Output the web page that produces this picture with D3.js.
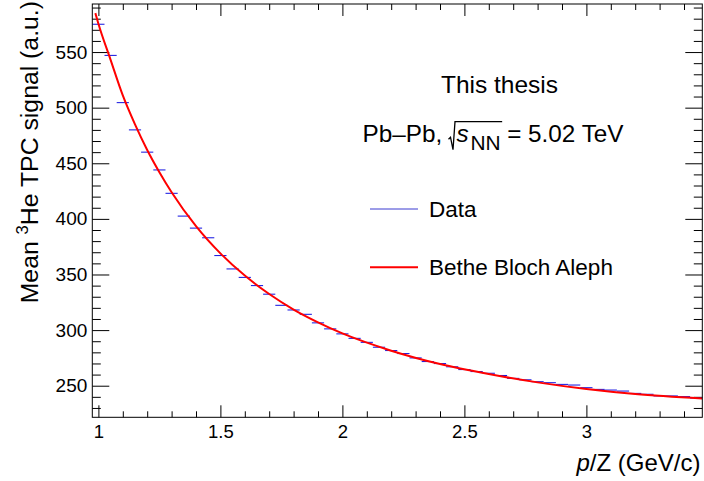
<!DOCTYPE html>
<html>
<head>
<meta charset="utf-8">
<script src="https://cdn.jsdelivr.net/npm/d3@7"></script>
<style>
  body { margin: 0; background: #fff; }
  svg { display: block; }
  text { font-family: "Liberation Sans", Arial, Helvetica, sans-serif; fill: #000; }
</style>
</head>
<body>
<svg id="chart" width="704" height="481"></svg>
<script>
// Mean 3He TPC signal per p/Z bin (bin width 0.05 GeV/c)
const binCenters = [
  1.00, 1.05, 1.10, 1.15, 1.20, 1.25, 1.30, 1.35, 1.40, 1.45,
  1.50, 1.55, 1.60, 1.65, 1.70, 1.75, 1.80, 1.85, 1.90, 1.95,
  2.00, 2.05, 2.10, 2.15, 2.20, 2.25, 2.30, 2.35, 2.40, 2.45,
  2.50, 2.55, 2.60, 2.65, 2.70, 2.75, 2.80, 2.85, 2.90, 2.95,
  3.00, 3.05, 3.10, 3.15, 3.20, 3.25, 3.30, 3.35, 3.40, 3.45
];
const meanSignal = [
  575.0, 547.0, 504.5, 480.0, 460.0, 444.0, 423.0, 402.5, 391.7, 383.0,
  367.0, 355.0, 347.4, 340.0, 332.3, 322.3, 318.1, 314.2, 306.5, 301.1,
  296.6, 292.6, 289.0, 284.6, 281.6, 278.9, 275.0, 271.7, 269.9, 267.0,
  264.5, 262.7, 261.2, 259.2, 256.6, 255.3, 253.6, 252.7, 251.2, 250.6,
  248.2, 246.7, 246.1, 245.2, 243.1, 242.3, 240.8, 240.8, 240.2, 238.9
];
const binWidth = 0.05;

// Bethe-Bloch (ALEPH parametrisation) fit, sampled along p/Z
const fitP      = [0.9875, 1.00, 1.05, 1.10, 1.15, 1.20, 1.25, 1.30, 1.40, 1.50,
                   1.60, 1.70, 1.80, 1.90, 2.00, 2.20, 2.40, 2.60, 2.80, 3.00,
                   3.20, 3.475];
const fitSignal = [585.0, 575.5, 543.0, 511.0, 485.0, 462.0, 442.0, 424.0, 393.5, 369.0,
                   349.0, 332.5, 318.5, 307.0, 297.0, 281.5, 269.5, 260.5, 253.0, 247.0,
                   242.5, 238.5];

// Axis tick labels
const xMajorTicks = [1, 1.5, 2, 2.5, 3];
const yMajorTicks = [250, 300, 350, 400, 450, 500, 550];

const svg = d3.select("#chart");
const frameL = 92.3, frameR = 702.3, frameT = 4, frameB = 417.3;

const x = d3.scaleLinear().domain([0.975, 3.475]).range([frameL, frameR]);
const y = d3.scaleLinear().domain([221.6, 593.2]).range([frameB, frameT]);

const xMinor = d3.range(1.1, 3.45, 0.1).map(v => +v.toFixed(2))
  .filter(v => Math.abs(v * 2 - Math.round(v * 2)) > 1e-6);
const yMinor = d3.range(230, 593, 10).filter(v => v % 50 !== 0);

const fmt = d => String(d);

// ticks on all four sides, pointing into the frame
function tickAxis(axisFn, scale, values, size, labels, pos, padding) {
  const a = axisFn(scale).tickValues(values).tickSizeInner(-size).tickSizeOuter(0)
    .tickPadding(padding || 0).tickFormat(labels ? fmt : "");
  const g = svg.append("g").attr("transform", pos).call(a);
  g.select(".domain").remove();
  g.selectAll(".tick line").attr("stroke", "#000").attr("stroke-width", 1);
  return g;
}

tickAxis(d3.axisBottom, x, xMinor, 6, false, `translate(0,${frameB})`);
const gxb = tickAxis(d3.axisBottom, x, xMajorTicks, 12, true, `translate(0,${frameB})`, 8);
gxb.selectAll("text").attr("font-size", 18.5).attr("font-family", null);
tickAxis(d3.axisTop, x, xMinor, 6, false, `translate(0,${frameT})`);
tickAxis(d3.axisTop, x, xMajorTicks, 12, false, `translate(0,${frameT})`);

tickAxis(d3.axisLeft, y, yMinor, 8.5, false, `translate(${frameL},0)`);
const gyl = tickAxis(d3.axisLeft, y, yMajorTicks, 17, true, `translate(${frameL},0)`, 5);
gyl.selectAll("text").attr("font-size", 19).attr("font-family", null);
tickAxis(d3.axisRight, y, yMinor, 8.5, false, `translate(${frameR},0)`);
tickAxis(d3.axisRight, y, yMajorTicks, 17, false, `translate(${frameR},0)`);

// plotting area
svg.append("clipPath").attr("id", "plotArea")
  .append("rect").attr("x", frameL).attr("y", frameT)
  .attr("width", frameR - frameL).attr("height", frameB - frameT);
const plot = svg.append("g").attr("clip-path", "url(#plotArea)");

// data: horizontal bars spanning each bin
plot.append("g").selectAll("line")
  .data(binCenters.map((c, i) => ({ c, v: meanSignal[i] })))
  .join("line")
  .attr("x1", d => x(d.c - binWidth / 2))
  .attr("x2", d => x(d.c + binWidth / 2))
  .attr("y1", d => y(d.v))
  .attr("y2", d => y(d.v))
  .attr("stroke", "#1010e0")
  .attr("stroke-width", 1);

// fit curve
const line = d3.line().x(d => x(d[0])).y(d => y(d[1])).curve(d3.curveMonotoneX);
plot.append("path")
  .datum(fitP.map((p, i) => [p, fitSignal[i]]))
  .attr("d", line)
  .attr("fill", "none")
  .attr("stroke", "#ff0000")
  .attr("stroke-width", 2);

// frame
svg.append("rect")
  .attr("x", frameL).attr("y", frameT)
  .attr("width", frameR - frameL).attr("height", frameB - frameT)
  .attr("fill", "none").attr("stroke", "#000").attr("stroke-width", 1);

// axis titles
const xt = svg.append("text").attr("x", 700.5).attr("y", 471)
  .attr("text-anchor", "end").attr("font-size", 24);
xt.append("tspan").attr("font-style", "italic").text("p");
xt.append("tspan").text("/Z (GeV/c)");

const yt = svg.append("text")
  .attr("transform", "translate(37.5,1) rotate(-90)")
  .attr("text-anchor", "end").attr("font-size", 24.8);
yt.append("tspan").text("Mean ");
yt.append("tspan").attr("font-size", 16.5).attr("dy", -10).text("3");
yt.append("tspan").attr("dy", 10).text("He TPC signal (a.u.)");

// labels
svg.append("text").attr("x", 499.5).attr("y", 93.3)
  .attr("text-anchor", "middle").attr("font-size", 24.5).text("This thesis");

const fs = 24.3, by = 141.7;
const sys = svg.append("g").attr("font-size", fs);
sys.append("text").attr("x", 362.5).attr("y", by).text("Pb\u2013Pb,");
// radical sign with overline
const r0 = 449.5;
const sx = 456.5;
sys.append("text").attr("x", sx).attr("y", by)
  .attr("font-style", "italic").text("s");
const nx = 470.5;
const tn = sys.append("text").attr("x", nx).attr("y", by + 8)
  .attr("font-size", fs * 0.86).text("NN");
const ex = nx + tn.node().getComputedTextLength();
sys.append("path")
  .attr("d", `M${r0 - 1},${by - 2.5} L${r0 + 1},${by - 4.5} L${r0 + 3.5},${by + 8} L${r0 + 5.5},${by - 20} L${ex + 1.5},${by - 20}`)
  .attr("fill", "none").attr("stroke", "#000").attr("stroke-width", 1.3);
sys.append("text").attr("x", ex + 6.5).attr("y", by).text("= 5.02 TeV");

// legend
const legend = [
  { label: "Data", color: "#3a3ad0", width: 1, y: 209 },
  { label: "Bethe Bloch Aleph", color: "#ff0000", width: 2, y: 267.3 }
];
const lg = svg.append("g");
lg.selectAll("line").data(legend).join("line")
  .attr("x1", 370).attr("x2", 418)
  .attr("y1", d => d.y).attr("y2", d => d.y)
  .attr("stroke", d => d.color).attr("stroke-width", d => d.width);
lg.selectAll("text").data(legend).join("text")
  .attr("x", 429).attr("y", d => d.y + 7.8)
  .attr("font-size", 22.5).text(d => d.label);
</script>
</body>
</html>
